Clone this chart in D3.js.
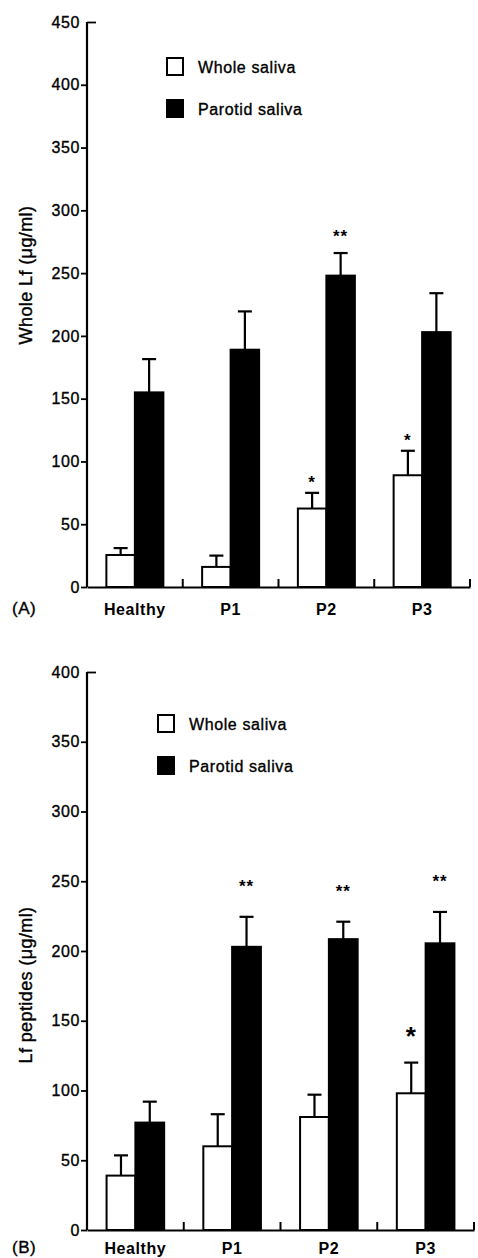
<!DOCTYPE html>
<html>
<head>
<meta charset="utf-8">
<script src="https://cdn.jsdelivr.net/npm/d3@7"></script>
<style>
  body { margin: 0; background: #fff; }
  svg { display: block; font-family: "Liberation Sans", Arial, sans-serif; }
  .tick text { font-size: 16px; letter-spacing: 0.6px; }
  .thick { stroke: #000; stroke-width: 0.35px; }
</style>
</head>
<body>
<div id="chart"></div>
<script>
// data
const categories = ["Healthy", "P1", "P2", "P3"];
const seriesNames = ["Whole saliva", "Parotid saliva"];

// (A) whole Lf, ug/ml
const lfWhole = [25.5, 16, 62.5, 89];
const lfWholeErr = [5.5, 9, 12.5, 19.5];
const lfParotid = [155, 189, 248, 203];
const lfParotidErr = [26.5, 30.5, 18, 31];
const lfWholeStars = ["", "", "*", "*"];
const lfParotidStars = ["", "", "**", ""];
const lfTicks = [0, 50, 100, 150, 200, 250, 300, 350, 400, 450];

// (B) Lf peptides, ug/ml
const pepWhole = [39, 60, 81, 98];
const pepWholeErr = [14.5, 23, 16, 22];
const pepParotid = [77, 203, 208.5, 205.5];
const pepParotidErr = [15, 21.5, 12.5, 22.5];
const pepWholeStars = ["", "", "", "*"];
const pepParotidStars = ["", "**", "**", "**"];
const pepTicks = [0, 50, 100, 150, 200, 250, 300, 350, 400];

const svg = d3.select("#chart").append("svg")
  .attr("width", 478)
  .attr("height", 1258);

function drawPanel(opts) {
  const x = d3.scaleBand().domain(categories).range([opts.left, opts.right]);
  const x1 = d3.scaleBand().domain(seriesNames).range([0, x.bandwidth()])
    .paddingInner(0).paddingOuter(0.68);
  const y = d3.scaleLinear().domain([0, opts.max]).range([opts.bottom, opts.top]);

  const g = svg.append("g");

  const rows = categories.map((c, i) => [
    { cat: c, s: seriesNames[0], v: opts.whole[i], e: opts.wholeErr[i], star: opts.wholeStars[i], big: opts.bigStar && opts.wholeStars[i] === "*" },
    { cat: c, s: seriesNames[1], v: opts.parotid[i], e: opts.parotidErr[i], star: opts.parotidStars[i] }
  ]).flat();

  // error whiskers (drawn first so bars sit over them)
  const err = g.selectAll(".err").data(rows).enter().append("g").attr("class", "err");
  err.append("line")
    .attr("x1", d => x(d.cat) + x1(d.s) + x1.bandwidth() / 2)
    .attr("x2", d => x(d.cat) + x1(d.s) + x1.bandwidth() / 2)
    .attr("y1", d => y(d.v))
    .attr("y2", d => y(d.v + d.e))
    .attr("stroke", "#000").attr("stroke-width", 2.2);
  err.append("line")
    .attr("x1", d => x(d.cat) + x1(d.s) + x1.bandwidth() / 2 - 7)
    .attr("x2", d => x(d.cat) + x1(d.s) + x1.bandwidth() / 2 + 7)
    .attr("y1", d => y(d.v + d.e))
    .attr("y2", d => y(d.v + d.e))
    .attr("stroke", "#000").attr("stroke-width", 2.2);

  g.selectAll(".bar").data(rows).enter().append("rect")
    .attr("class", "bar")
    .attr("x", d => x(d.cat) + x1(d.s))
    .attr("y", d => y(d.v))
    .attr("width", x1.bandwidth())
    .attr("height", d => y(0) - y(d.v))
    .attr("fill", d => d.s === seriesNames[0] ? "#fff" : "#000")
    .attr("stroke", "#000")
    .attr("stroke-width", 2);

  // significance marks
  g.selectAll(".star").data(rows.filter(d => d.star)).enter().append("text")
    .attr("class", "star")
    .attr("x", d => x(d.cat) + x1(d.s) + x1.bandwidth() / 2)
    .attr("y", d => y(d.v + d.e) - (d.s === seriesNames[0] ? opts.starGapW : opts.starGapP))
    .attr("dy", "0.58em")
    .attr("text-anchor", "middle")
    .attr("font-weight", "bold")
    .attr("font-size", d => d.big ? 26 : 17)
    .attr("letter-spacing", "1px")
    .text(d => d.star);

  // y axis
  const yAxis = g.append("g")
    .attr("transform", "translate(" + opts.left + ",0)")
    .call(d3.axisLeft(y).tickValues(opts.ticks).tickSize(6).tickPadding(1));
  yAxis.select(".domain").attr("stroke-width", 2.2).attr("d", "M0," + y(opts.max) + "V" + y(0));
  yAxis.selectAll(".tick line").attr("stroke-width", 1.8);
  yAxis.selectAll(".tick text").attr("fill", "#000").attr("class", "thick");
  // top tick points inward
  yAxis.selectAll(".tick").filter(d => d === opts.max).select("line").attr("x2", 9);

  // x axis with category labels
  const xAxis = g.append("g")
    .attr("transform", "translate(0," + y(0) + ")")
    .call(d3.axisBottom(x).tickSize(0).tickPadding(opts.labelPad));
  xAxis.select(".domain").attr("stroke-width", 2.2);
  xAxis.selectAll(".tick text")
    .attr("fill", "#000")
    .attr("font-size", 16)
    .attr("font-weight", "bold")
    .attr("letter-spacing", "0.4px");

  // group boundary ticks, pointing up
  g.selectAll(".sep").data(categories).enter().append("line")
    .attr("x1", d => x(d) + x.bandwidth())
    .attr("x2", d => x(d) + x.bandwidth())
    .attr("y1", y(0))
    .attr("y2", y(0) - 8)
    .attr("stroke", "#000").attr("stroke-width", 2);

  // panel letter
  g.append("text")
    .attr("class", "thick")
    .attr("x", 12)
    .attr("y", opts.letterY)
    .attr("font-size", 17)
    .attr("letter-spacing", "0.5px")
    .text(opts.letter);

  // y axis title
  g.append("text")
    .attr("class", "thick")
    .attr("transform", "translate(" + opts.titleX + "," + opts.titleY + ") rotate(-90)")
    .attr("text-anchor", "middle")
    .attr("font-size", 18)
    .attr("letter-spacing", "0.4px")
    .text(opts.title);

  // legend
  const leg = g.selectAll(".leg").data(seriesNames).enter().append("g")
    .attr("transform", (d, i) => "translate(" + opts.legX + "," + (opts.legY + i * 42) + ")");
  leg.append("rect")
    .attr("width", 16).attr("height", 17)
    .attr("fill", (d, i) => i === 0 ? "#fff" : "#000")
    .attr("stroke", "#000").attr("stroke-width", 2);
  leg.append("text")
    .attr("class", "thick")
    .attr("x", 31)
    .attr("y", 15)
    .attr("font-size", 16)
    .attr("letter-spacing", "0.6px")
    .text(d => d);
}

drawPanel({
  left: 87, right: 470, top: 22, bottom: 587, max: 450,
  ticks: lfTicks,
  whole: lfWhole, wholeErr: lfWholeErr, parotid: lfParotid, parotidErr: lfParotidErr,
  wholeStars: lfWholeStars, parotidStars: lfParotidStars,
  starGapW: 15, starGapP: 21, bigStar: false,
  labelPad: 17, letter: "(A)", letterY: 614,
  title: "Whole Lf (\u03bcg/ml)", titleX: 32, titleY: 275,
  legX: 167, legY: 58
});

drawPanel({
  left: 87, right: 474, top: 672, bottom: 1230, max: 400,
  ticks: pepTicks,
  whole: pepWhole, wholeErr: pepWholeErr, parotid: pepParotid, parotidErr: pepParotidErr,
  wholeStars: pepWholeStars, parotidStars: pepParotidStars,
  starGapW: 33, starGapP: 35, bigStar: true,
  labelPad: 13, letter: "(B)", letterY: 1253,
  title: "Lf peptides (\u03bcg/ml)", titleX: 32, titleY: 985,
  legX: 158, legY: 715
});
</script>
</body>
</html>
